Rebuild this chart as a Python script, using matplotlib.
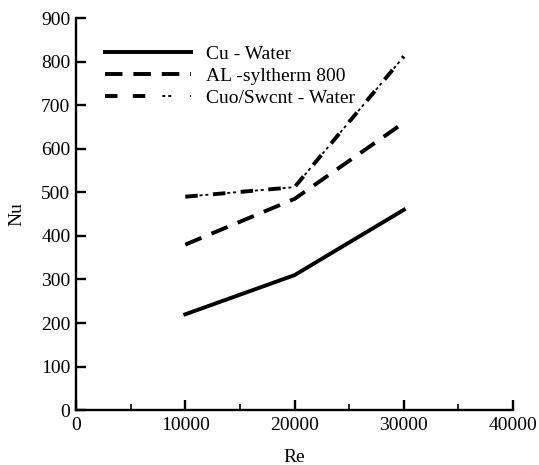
import numpy as np
import matplotlib.pyplot as plt
from matplotlib.ticker import MultipleLocator
from matplotlib.legend_handler import HandlerTuple

plt.rcParams['font.family'] = ['Liberation Serif', 'DejaVu Serif']

re = [10000, 20000, 30000]
nu_cu_water = [220, 310, 460]
nu_al_syltherm = [380, 485, 660]
nu_cuo_swcnt = [490, 512, 812]

fig = plt.figure(figsize=(5.39, 4.65), dpi=100)
ax = fig.add_axes([0.141, 0.118, 0.811, 0.843])

lw = 2.8
l1, = ax.plot(re, nu_cu_water, color='black', linewidth=lw, linestyle='-')
l2, = ax.plot(re, nu_al_syltherm, color='black', linewidth=lw, linestyle=(0, (4.5, 2.8)))
# tecplot-like dash-dot-dot: thick dash plus thin dots in the gaps
l3a, = ax.plot(re, nu_cuo_swcnt, color='black', linewidth=lw, linestyle=(0, (9 / lw, 11 / lw)))
l3b, = ax.plot(re, nu_cuo_swcnt, color='black', linewidth=1.3,
               linestyle=(0, (0.001 / 1.3, 10.3 / 1.3, 2.2 / 1.3, 2.0 / 1.3, 2.2 / 1.3, 3.3 / 1.3)))

ax.set_xlim(0, 40000)
ax.set_ylim(0, 900)
ax.xaxis.set_major_locator(MultipleLocator(10000))
ax.xaxis.set_minor_locator(MultipleLocator(5000))
ax.yaxis.set_major_locator(MultipleLocator(100))

for side in ['top', 'right']:
    ax.spines[side].set_visible(False)
for side in ['left', 'bottom']:
    ax.spines[side].set_linewidth(1.7)

ax.tick_params(which='major', direction='in', length=7, width=1.7, labelsize=14)
ax.tick_params(which='minor', direction='in', length=4, width=1.2)
ax.tick_params(axis='x', which='major', pad=5)
ax.tick_params(axis='y', which='major', pad=4)

ax.set_xlabel('Re', fontsize=14, labelpad=11)
ax.set_ylabel('Nu', fontsize=14, labelpad=11)

ax.legend([l1, l2, (l3a, l3b)], ['Cu - Water', 'AL -syltherm 800', 'Cuo/Swcnt - Water'],
          handler_map={tuple: HandlerTuple(ndivide=None)},
          loc='upper left', bbox_to_anchor=(0.066, 0.93), frameon=False, fontsize=14,
          borderaxespad=0, borderpad=0,
          handlelength=4.45, handletextpad=0.77, labelspacing=0.22)

fig.savefig('out.png', dpi=100)
